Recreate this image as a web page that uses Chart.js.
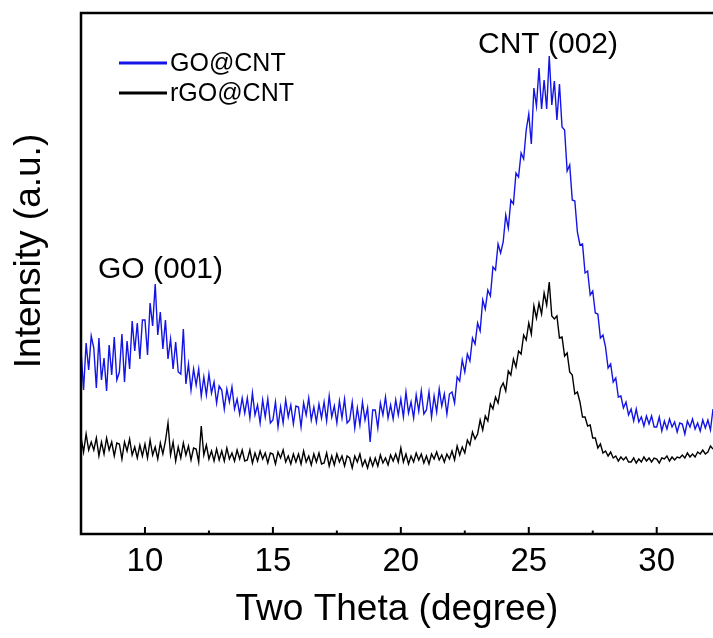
<!DOCTYPE html>
<html>
<head>
<meta charset="utf-8">
<script src="https://cdn.jsdelivr.net/npm/chart.js@4.4.1/dist/chart.umd.min.js"></script>
<style>
  html, body { margin: 0; padding: 0; background: #fff; overflow: hidden; }
  #wrap { width: 713px; height: 638px; }
</style>
</head>
<body>
<div id="wrap"><canvas id="xrdChart" width="713" height="638"></canvas></div>
<script>
// scan grid (2θ, degrees) – one reading every 0.1°
const scanStart = 7.5;
const scanStep = 0.1;

const majorTicks = [10, 15, 20, 25, 30];
const minorTicks = [12.5, 17.5, 22.5, 27.5];
const seriesNames = ['GO@CNT', 'rGO@CNT'];
const peakLabels = ['GO (001)', 'CNT (002)'];
const xTitle = 'Two Theta (degree)';
const yTitle = 'Intensity (a.u.)';

// intensities (a.u.)
const goCnt = [
  185,144,191,164,198,
  186,146,196,154,176,143,189,159,197,154,
  162,200,152,193,165,213,183,211,175,214,
  214,179,231,208,250,199,222,185,214,175,
  195,165,192,162,160,205,150,170,144,165,
  149,165,138,157,139,160,141,152,131,148,
  144,125,145,132,147,125,135,120,136,121,
  136,116,141,119,129,111,134,117,135,111,
  114,132,107,127,111,134,117,129,110,128,
  127,107,131,119,136,114,127,112,130,116,
  132,113,138,117,128,111,133,116,135,111,
  114,132,106,126,109,132,114,126,92,124,
  124,106,131,119,137,116,129,115,134,119,
  135,117,142,121,132,116,139,123,143,120,
  124,142,117,138,122,145,128,140,120,140,
  142,131,157,153,174,162,180,173,196,190,
  211,203,234,225,244,238,267,264,290,281,
  292,319,306,334,330,361,357,381,375,404,
  420,390,446,428,466,425,454,425,478,429,
  453,414,450,407,404,363,369,334,333,302,
  289,290,261,263,239,243,221,220,196,199,
  187,166,170,152,156,137,138,126,132,119,
  125,113,125,112,117,108,118,110,118,107,
  107,117,103,113,105,115,107,112,102,111,
  110,100,113,107,115,105,111,103,114,106,
  114,104,125
];

const rgoCnt = [
  97,82,100,84,92,
  84,96,78,92,80,96,84,92,78,91,
  90,75,92,83,95,79,87,76,89,78,
  90,76,94,79,87,75,91,80,93,111,
  79,92,73,87,76,91,79,88,74,86,
  85,72,108,79,89,75,83,73,85,74,
  83,73,86,75,81,73,84,75,84,73,
  74,84,71,81,73,83,75,81,71,81,
  80,70,82,76,84,72,78,70,80,72,
  80,70,83,72,78,69,80,72,81,70,
  71,81,68,78,69,80,72,78,68,78,
  76,66,78,72,80,68,74,66,76,68,
  76,68,79,71,76,69,79,73,80,72,
  86,72,80,70,78,72,81,74,80,71,
  78,70,80,75,82,74,79,72,80,75,
  83,74,88,79,87,81,94,89,102,95,
  100,114,104,118,113,130,125,137,131,146,
  151,143,163,159,175,167,183,180,199,194,
  211,200,228,216,231,220,241,229,252,218,
  215,218,196,197,178,181,162,159,140,142,
  132,117,117,108,109,96,96,86,90,81,
  83,78,82,76,78,73,77,74,77,72,
  72,76,71,75,72,77,73,76,72,76,
  75,71,76,75,78,73,77,74,77,76,
  79,76,81,77,80,77,82,80,84,80,
  82,88,85
];

const BLUE = '#1414e6';
const FONT = '"Liberation Sans", Arial, sans-serif';

const toPoints = (vals) => vals.map((v, i) => ({ x: +(scanStart + i * scanStep).toFixed(1), y: v }));

// frame, inward ticks, legend and labels
const decorPlugin = {
  id: 'decor',
  afterDraw(chart) {
    const { ctx, chartArea: a, scales: { x } } = chart;
    ctx.save();
    ctx.strokeStyle = '#000';
    ctx.lineWidth = 2.5;
    ctx.beginPath();
    ctx.moveTo(a.right + 5, a.top);
    ctx.lineTo(a.left, a.top);
    ctx.lineTo(a.left, a.bottom);
    ctx.lineTo(a.right + 5, a.bottom);
    ctx.stroke();

    ctx.lineWidth = 2;
    majorTicks.forEach((v) => {
      const px = x.getPixelForValue(v);
      ctx.beginPath(); ctx.moveTo(px, a.bottom); ctx.lineTo(px, a.bottom - 7); ctx.stroke();
    });
    minorTicks.forEach((v) => {
      const px = x.getPixelForValue(v);
      ctx.beginPath(); ctx.moveTo(px, a.bottom); ctx.lineTo(px, a.bottom - 3.5); ctx.stroke();
    });

    // legend
    ctx.lineWidth = 3;
    ctx.font = '25px ' + FONT;
    ctx.textBaseline = 'middle';
    ctx.textAlign = 'left';
    [[BLUE, 63], ['#000', 93]].forEach(([c, yy], i) => {
      ctx.strokeStyle = c;
      ctx.beginPath(); ctx.moveTo(119, yy); ctx.lineTo(167, yy); ctx.stroke();
      ctx.fillStyle = '#000';
      ctx.fillText(seriesNames[i], 170, yy + 1);
    });

    // peak labels
    ctx.font = '30px ' + FONT;
    ctx.fillText(peakLabels[0], 98, 270);
    ctx.textAlign = 'center';
    ctx.fillText(peakLabels[1], 548, 45);

    // axis titles
    ctx.font = '37px ' + FONT;
    ctx.fillText(xTitle, 397, 610);
    ctx.translate(30, 251);
    ctx.rotate(-Math.PI / 2);
    ctx.fillText(yTitle, 0, 0);
    ctx.restore();
  }
};

new Chart(document.getElementById('xrdChart'), {
  type: 'line',
  data: {
    datasets: [
      { label: seriesNames[0], data: toPoints(goCnt), borderColor: BLUE, borderWidth: 1.4, pointRadius: 0, tension: 0 },
      { label: seriesNames[1], data: toPoints(rgoCnt), borderColor: '#000', borderWidth: 1.4, pointRadius: 0, tension: 0 }
    ]
  },
  options: {
    responsive: false,
    animation: false,
    layout: { padding: { top: 13, left: 0, right: 0, bottom: 0 } },
    plugins: { legend: { display: false }, tooltip: { enabled: false } },
    scales: {
      x: {
        type: 'linear',
        min: scanStart,
        max: 32.2,
        afterBuildTicks: (s) => { s.ticks = majorTicks.map((v) => ({ value: v })); },
        afterFit: (s) => { s.height = 104; },
        ticks: { includeBounds: false, padding: 8, color: '#000', font: { family: FONT, size: 33 }, maxRotation: 0 },
        grid: { display: false, drawTicks: false },
        border: { display: false }
      },
      y: {
        min: 0,
        max: 521,
        afterFit: (s) => { s.width = 81; },
        ticks: { display: false },
        grid: { display: false, drawTicks: false },
        border: { display: false }
      }
    }
  },
  plugins: [decorPlugin]
});
</script>
</body>
</html>
